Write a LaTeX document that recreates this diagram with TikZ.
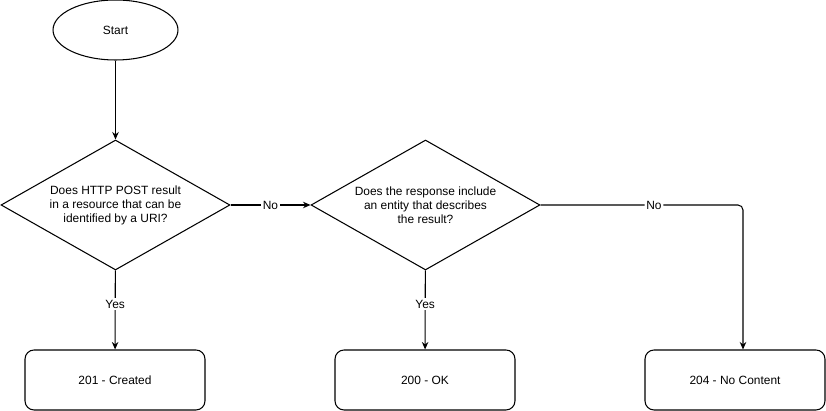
\documentclass[tikz,border=0pt]{standalone}
\usepackage{fontspec}
\setmainfont{Liberation Sans}
\usetikzlibrary{shapes.geometric,arrows.meta}

\tikzset{
	startnode/.style={draw, ellipse, minimum width=2.5cm, minimum height=1.2cm, inner sep=0pt},
	decision/.style={draw, diamond, shape aspect=1.76, minimum width=4.58cm, minimum height=2.6cm, inner sep=0pt, align=center},
	result/.style={draw, rounded corners=0.18cm, minimum width=3.6cm, minimum height=1.2cm},
	answer/.style={fill=white, inner sep=1pt},
}

\begin{document}
\begin{tikzpicture}[x=0.02cm, y=-0.02cm, line width=0.6pt,
	font=\fontsize{6.8pt}{8pt}\selectfont,
	>={Stealth[length=0.15cm, width=0.13cm]}]
	\useasboundingbox (0,0) rectangle (826,411);

	\node[startnode] (start) at (115.5, 30) {Start};
	\node[decision] (post) at (115.5, 205) {Does HTTP POST result\\in a resource that can be\\identified by a URI?};
	\node[decision] (entity) at (425.5, 205) {Does the response include\\an entity that describes\\the result?};
	\node[result] (created) at (115, 380) {201 - Created};
	\node[result] (ok) at (425, 380) {200 - OK};
	\node[result] (nocontent) at (735, 380) {204 - No Content};

	\draw[->] (start) -- (post);
	\draw[->] (post) -- node[answer] {No} (entity);
	\draw[->] (post) -- node[answer, pos=0.425] {Yes} (created);
	\draw[->] (entity) -- node[answer, pos=0.425] {Yes} (ok);
	\draw[->, rounded corners=0.1cm] (entity.east) -| node[answer, pos=0.28] {No} ([xshift=0.16cm]nocontent.north);

\end{tikzpicture}
\end{document}
